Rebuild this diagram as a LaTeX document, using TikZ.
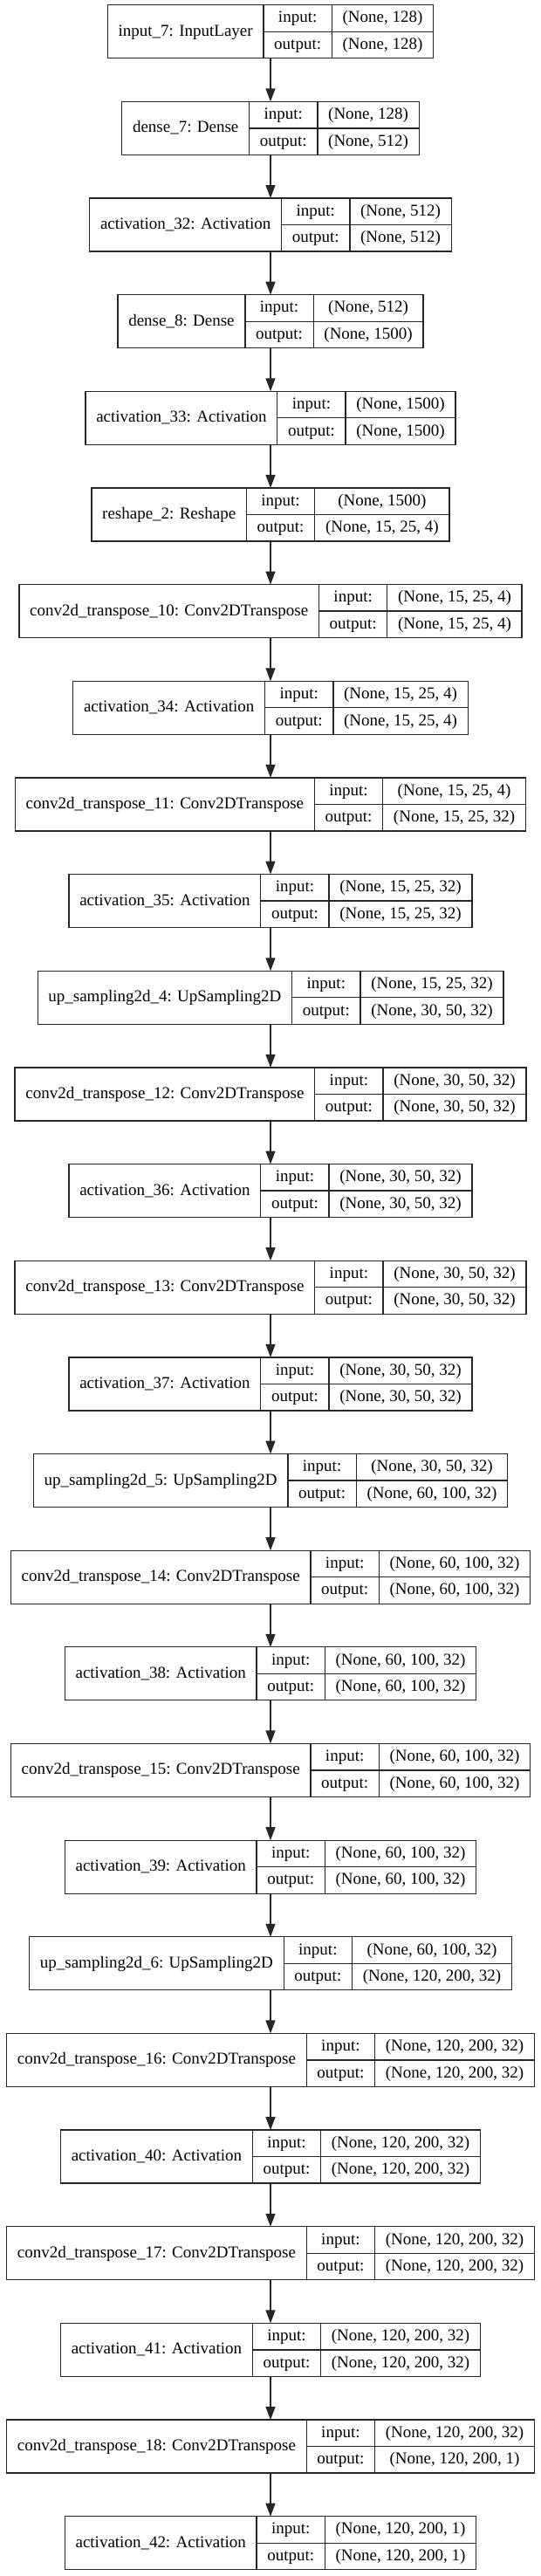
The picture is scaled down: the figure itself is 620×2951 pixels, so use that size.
\documentclass[tikz,border=0pt]{standalone}
\usepackage{fontspec}
\setmainfont{Liberation Serif}
\usetikzlibrary{arrows.meta}
\newlength\lwa \newlength\lwb \newlength\lwc \newlength\lwt
\newcommand\lf{\fontsize{19pt}{23pt}\selectfont}
\tikzset{
  cellbox/.style={draw=black!85, line width=1.3pt, inner sep=0pt, outer sep=0pt,
    font=\lf, anchor=north west, text height=13.8pt, text depth=3.8pt, align=center},
  fullbox/.style={draw=none, inner sep=0pt, outer sep=0pt, anchor=north},
  conn/.style={draw=black!85, line width=1.3pt, -{Triangle[length=15pt,width=11pt]}},
}
% measuring pass (outside the picture)
\newcommand\measurelayer[5]{%
  \settowidth\lwa{\lf #3}\addtolength\lwa{24.5pt}%
  \settowidth\lwb{\lf output:}\addtolength\lwb{24.5pt}%
  \settowidth\lwc{\lf #4}\settowidth\lwt{\lf #5}%
  \ifdim\lwt>\lwc \lwc=\lwt\fi
  \addtolength\lwc{24.5pt}%
  \expandafter\xdef\csname wa#1\endcsname{\the\lwa}%
  \expandafter\xdef\csname wb#1\endcsname{\the\lwb}%
  \expandafter\xdef\csname wc#1\endcsname{\the\lwc}%
}
% drawing pass (inside the picture)
\newcommand\drawlayer[5]{%
  \edef\wA{\csname wa#1\endcsname}\edef\wB{\csname wb#1\endcsname}\edef\wC{\csname wc#1\endcsname}%
  \pgfmathsetmacro\xl{310-(\wA+\wB+\wC)/2}%
  \pgfmathsetmacro\xm{\xl+\wA}%
  \pgfmathsetmacro\xr{\xm+\wB}%
  \pgfmathsetmacro\wT{\wA+\wB+\wC}%
  \pgfmathsetmacro\yt{-(5.7+#2*110.654)}%
  \pgfmathsetmacro\ym{\yt-30.5}%
  \node[fullbox, minimum width=\wT pt, minimum height=61pt] (#1) at (310pt,\yt pt) {};
  \node[cellbox, minimum width=\wA, minimum height=61pt] (#1-n) at (\xl pt,\yt pt) {#3};
  \node[cellbox, minimum width=\wB, minimum height=30.5pt] (#1-i) at (\xm pt,\yt pt) {input:};
  \node[cellbox, minimum width=\wB, minimum height=30.5pt] (#1-o) at (\xm pt,\ym pt) {output:};
  \node[cellbox, minimum width=\wC, minimum height=30.5pt] (#1-is) at (\xr pt,\yt pt) {#4};
  \node[cellbox, minimum width=\wC, minimum height=30.5pt] (#1-os) at (\xr pt,\ym pt) {#5};
}
\newcommand\alllayers{%
\lay{L0}{0}{input\_7: InputLayer}{(None, 128)}{(None, 128)}%
\lay{L1}{1}{dense\_7: Dense}{(None, 128)}{(None, 512)}%
\lay{L2}{2}{activation\_32: Activation}{(None, 512)}{(None, 512)}%
\lay{L3}{3}{dense\_8: Dense}{(None, 512)}{(None, 1500)}%
\lay{L4}{4}{activation\_33: Activation}{(None, 1500)}{(None, 1500)}%
\lay{L5}{5}{reshape\_2: Reshape}{(None, 1500)}{(None, 15, 25, 4)}%
\lay{L6}{6}{conv2d\_transpose\_10: Conv2DTranspose}{(None, 15, 25, 4)}{(None, 15, 25, 4)}%
\lay{L7}{7}{activation\_34: Activation}{(None, 15, 25, 4)}{(None, 15, 25, 4)}%
\lay{L8}{8}{conv2d\_transpose\_11: Conv2DTranspose}{(None, 15, 25, 4)}{(None, 15, 25, 32)}%
\lay{L9}{9}{activation\_35: Activation}{(None, 15, 25, 32)}{(None, 15, 25, 32)}%
\lay{L10}{10}{up\_sampling2d\_4: UpSampling2D}{(None, 15, 25, 32)}{(None, 30, 50, 32)}%
\lay{L11}{11}{conv2d\_transpose\_12: Conv2DTranspose}{(None, 30, 50, 32)}{(None, 30, 50, 32)}%
\lay{L12}{12}{activation\_36: Activation}{(None, 30, 50, 32)}{(None, 30, 50, 32)}%
\lay{L13}{13}{conv2d\_transpose\_13: Conv2DTranspose}{(None, 30, 50, 32)}{(None, 30, 50, 32)}%
\lay{L14}{14}{activation\_37: Activation}{(None, 30, 50, 32)}{(None, 30, 50, 32)}%
\lay{L15}{15}{up\_sampling2d\_5: UpSampling2D}{(None, 30, 50, 32)}{(None, 60, 100, 32)}%
\lay{L16}{16}{conv2d\_transpose\_14: Conv2DTranspose}{(None, 60, 100, 32)}{(None, 60, 100, 32)}%
\lay{L17}{17}{activation\_38: Activation}{(None, 60, 100, 32)}{(None, 60, 100, 32)}%
\lay{L18}{18}{conv2d\_transpose\_15: Conv2DTranspose}{(None, 60, 100, 32)}{(None, 60, 100, 32)}%
\lay{L19}{19}{activation\_39: Activation}{(None, 60, 100, 32)}{(None, 60, 100, 32)}%
\lay{L20}{20}{up\_sampling2d\_6: UpSampling2D}{(None, 60, 100, 32)}{(None, 120, 200, 32)}%
\lay{L21}{21}{conv2d\_transpose\_16: Conv2DTranspose}{(None, 120, 200, 32)}{(None, 120, 200, 32)}%
\lay{L22}{22}{activation\_40: Activation}{(None, 120, 200, 32)}{(None, 120, 200, 32)}%
\lay{L23}{23}{conv2d\_transpose\_17: Conv2DTranspose}{(None, 120, 200, 32)}{(None, 120, 200, 32)}%
\lay{L24}{24}{activation\_41: Activation}{(None, 120, 200, 32)}{(None, 120, 200, 32)}%
\lay{L25}{25}{conv2d\_transpose\_18: Conv2DTranspose}{(None, 120, 200, 32)}{(None, 120, 200, 1)}%
\lay{L26}{26}{activation\_42: Activation}{(None, 120, 200, 1)}{(None, 120, 200, 1)}%
}
\begin{document}
\let\lay\measurelayer
\alllayers
\let\lay\drawlayer
\begin{tikzpicture}
\useasboundingbox (0,0) rectangle (620pt,-2951pt);
\alllayers
\foreach \a/\b in {0/1,1/2,2/3,3/4,4/5,5/6,6/7,7/8,8/9,9/10,10/11,11/12,12/13,13/14,14/15,15/16,16/17,17/18,18/19,19/20,20/21,21/22,22/23,23/24,24/25,25/26}
  \draw[conn] (L\a.south) -- (L\b.north);
\end{tikzpicture}
\end{document}
